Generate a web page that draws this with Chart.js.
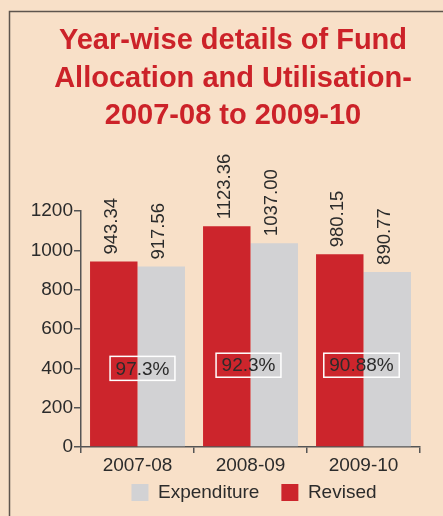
<!DOCTYPE html>
<html>
<head>
<meta charset="utf-8">
<script src="https://cdn.jsdelivr.net/npm/chart.js@4.4.1/dist/chart.umd.min.js"></script>
<style>
  html, body { margin: 0; padding: 0; background: #f8e0c8; }
  #wrap { width: 443px; height: 516px; position: relative; }
</style>
</head>
<body>
<div id="wrap"><canvas id="fundChart"></canvas></div>
<script>
const years = ['2007-08', '2008-09', '2009-10'];
const revised = [943.34, 1123.36, 980.15];
const expenditure = [917.56, 1037.00, 890.77];
const utilisation = ['97.3%', '92.3%', '90.88%'];
const yTicks = [0, 200, 400, 600, 800, 1000, 1200];

const FONT = "'Liberation Sans', Arial, sans-serif";

// background, frame lines, and small nudges of title / legend
const framePlugin = {
  id: 'frame',
  afterLayout(chart) {
    const t = chart.titleBlock;
    t.left += 23; t.right += 23;
    const lg = chart.legend;
    lg.left += 44; lg.right += 44;
    lg.top -= 18; lg.bottom -= 18;
  },
  beforeDraw(chart) {
    const ctx = chart.ctx;
    ctx.save();
    ctx.fillStyle = '#f8e0c8';
    ctx.fillRect(0, 0, chart.width, chart.height);
    ctx.strokeStyle = '#5e554e';
    ctx.lineWidth = 1.5;
    ctx.beginPath();
    ctx.moveTo(9.5, chart.height);
    ctx.lineTo(9.5, 11.5);
    ctx.lineTo(chart.width, 11.5);
    ctx.stroke();
    ctx.restore();
  }
};

// rotated values over bars + utilisation boxes
const labelPlugin = {
  id: 'labels',
  afterDatasetsDraw(chart) {
    const ctx = chart.ctx;
    ctx.save();
    ctx.font = '18.5px ' + FONT;
    ctx.fillStyle = '#2b2b2b';
    chart.data.datasets.forEach((ds, i) => {
      chart.getDatasetMeta(i).data.forEach((bar, j) => {
        ctx.save();
        ctx.translate(bar.x - 2, bar.y - 7);
        ctx.rotate(-Math.PI / 2);
        ctx.textAlign = 'left';
        ctx.textBaseline = 'middle';
        ctx.fillText(ds.data[j].toFixed(2), 0, 0);
        ctx.restore();
      });
    });
    const x = chart.scales.x, y = chart.scales.y;
    utilisation.forEach((txt, j) => {
      const py = y.getPixelForValue(j === 0 ? 400 : 416);
      const cx = x.getPixelForValue(j) + (j === 0 ? 5 : -2);
      ctx.font = '19px ' + FONT;
      const w = ctx.measureText(txt).width + 11;
      ctx.strokeStyle = '#ffffff';
      ctx.lineWidth = 1.5;
      ctx.strokeRect(cx - w / 2, py - 12, w, 24);
      ctx.textAlign = 'center';
      ctx.textBaseline = 'middle';
      ctx.fillStyle = '#2b2b2b';
      ctx.fillText(txt, cx, py + 1);
    });
    ctx.restore();
  }
};

new Chart(document.getElementById('fundChart'), {
  type: 'bar',
  data: {
    labels: years,
    datasets: [
      {
        label: 'Revised',
        data: revised,
        backgroundColor: '#cc252c',
        categoryPercentage: 0.84,
        barPercentage: 1
      },
      {
        label: 'Expenditure',
        data: expenditure,
        backgroundColor: '#d2d2d4',
        categoryPercentage: 0.84,
        barPercentage: 1
      }
    ]
  },
  options: {
    responsive: true,
    maintainAspectRatio: false,
    animation: false,
    layout: { padding: { left: 0, right: 23, top: 0, bottom: -14 } },
    scales: {
      x: {
        afterFit(scale) { scale.height = 32; },
        grid: { display: true, drawOnChartArea: false, tickLength: 6, color: '#555', lineWidth: 1.5 },
        border: { color: '#555', width: 1.5 },
        ticks: { font: { family: FONT, size: 19 }, color: '#2b2b2b', padding: 1 }
      },
      y: {
        min: 0,
        max: 1200,
        afterFit(scale) { scale.width = 81; },
        afterBuildTicks(scale) { scale.ticks = yTicks.map(v => ({ value: v })); },
        grid: { display: true, drawOnChartArea: false, tickLength: 7, color: '#555', lineWidth: 1.5 },
        border: { color: '#555', width: 1.5 },
        ticks: {
          font: { family: FONT, size: 19 },
          color: '#2b2b2b',
          padding: 1,
          callback: v => String(v)
        }
      }
    },
    plugins: {
      title: {
        display: true,
        text: ['Year-wise details of Fund', 'Allocation and Utilisation-', '2007-08 to 2009-10'],
        font: { family: FONT, size: 29, weight: 'bold', lineHeight: 1.3 },
        color: '#cc2229',
        padding: { top: 22, bottom: 76 }
      },
      legend: {
        position: 'bottom',
        labels: {
          font: { family: FONT, size: 19 },
          color: '#2b2b2b',
          boxWidth: 17,
          boxHeight: 17,
          padding: 22,
          sort: (a, b) => b.datasetIndex - a.datasetIndex
        }
      },
      tooltip: { enabled: false }
    }
  },
  plugins: [framePlugin, labelPlugin]
});
</script>
</body>
</html>
